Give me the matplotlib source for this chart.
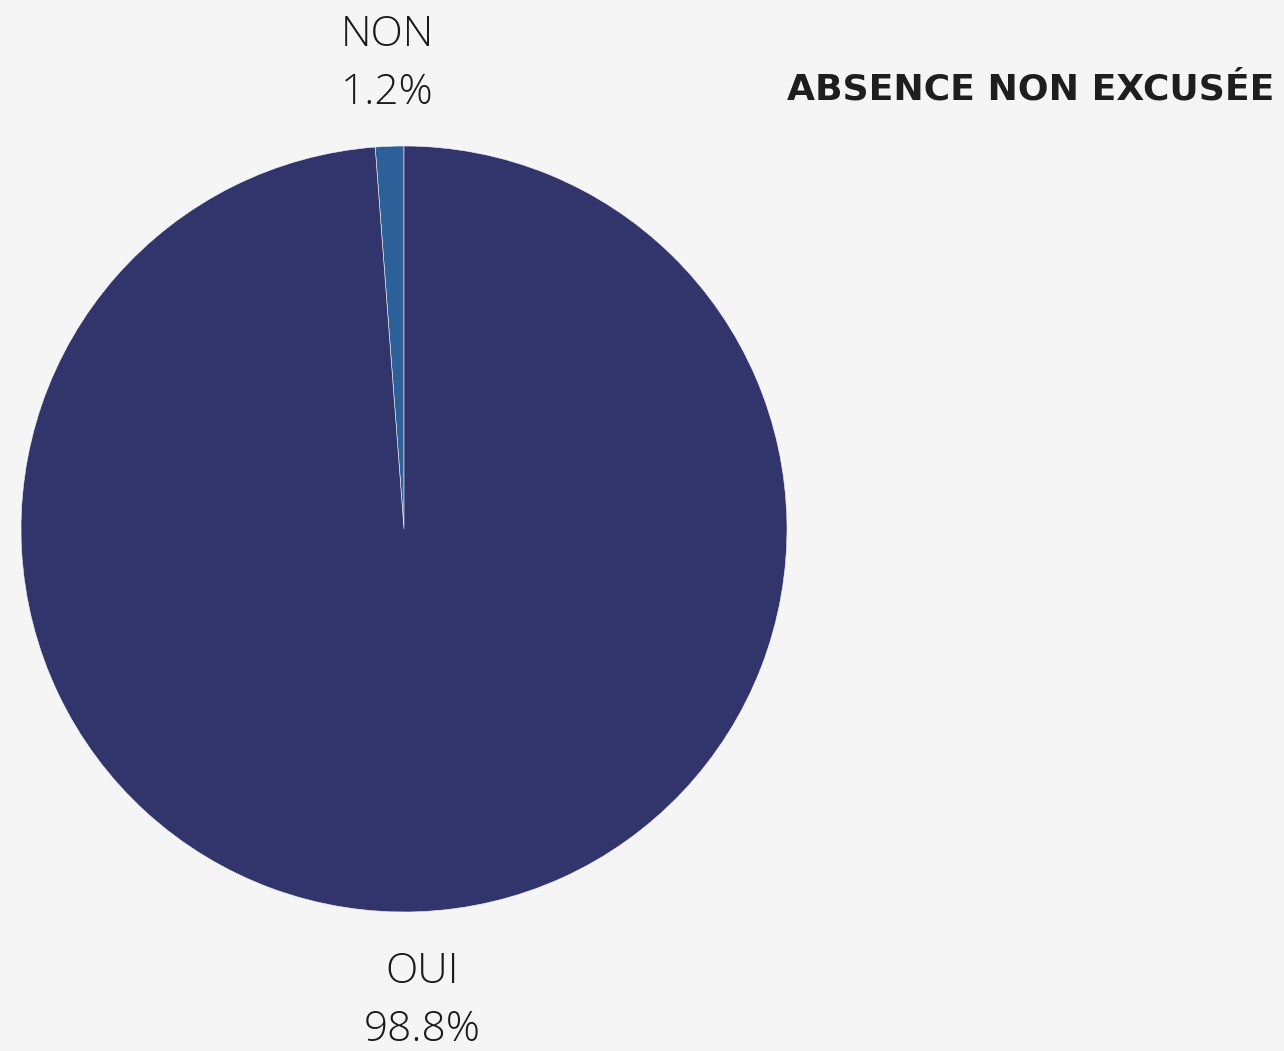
import matplotlib.pyplot as plt

labels = ["NON", "OUI"]
values = [1.2, 98.8]
colors = ["#2d5f99", "#31356b"]
title = "ABSENCE NON EXCUSÉE"

W, H = 1284, 1051
fig = plt.figure(figsize=(W / 100, H / 100), dpi=100, facecolor="#f5f5f5")
ax = fig.add_axes([0, 0, 1, 1])
ax.set_facecolor("#f5f5f5")

cx, cy, r = 404, H - 529, 383
ax.pie(values, colors=colors, startangle=90, counterclock=True,
       center=(cx, cy), radius=r, frame=True,
       wedgeprops=dict(edgecolor="#f5f5f5", linewidth=0.4))
ax.set_xlim(0, W)
ax.set_ylim(0, H)
ax.set_aspect("equal")
ax.axis("off")

lab_font = dict(family="Open Sans", weight="light", fontsize=30.5, color="#1a1a1a",
                ha="center", va="center")
ax.text(387, H - 35, labels[0], **lab_font)
ax.text(387, H - 93, f"{values[0]}%", **lab_font)
ax.text(422, H - 972, labels[1], **lab_font)
ax.text(422, H - 1030, f"{values[1]}%", **lab_font)

ax.text(1274, H - 89, title, family="DejaVu Sans", weight="bold", fontsize=26,
        color="#1e1e1e", ha="right", va="center")

fig.savefig("out.png", dpi=100, facecolor=fig.get_facecolor())
